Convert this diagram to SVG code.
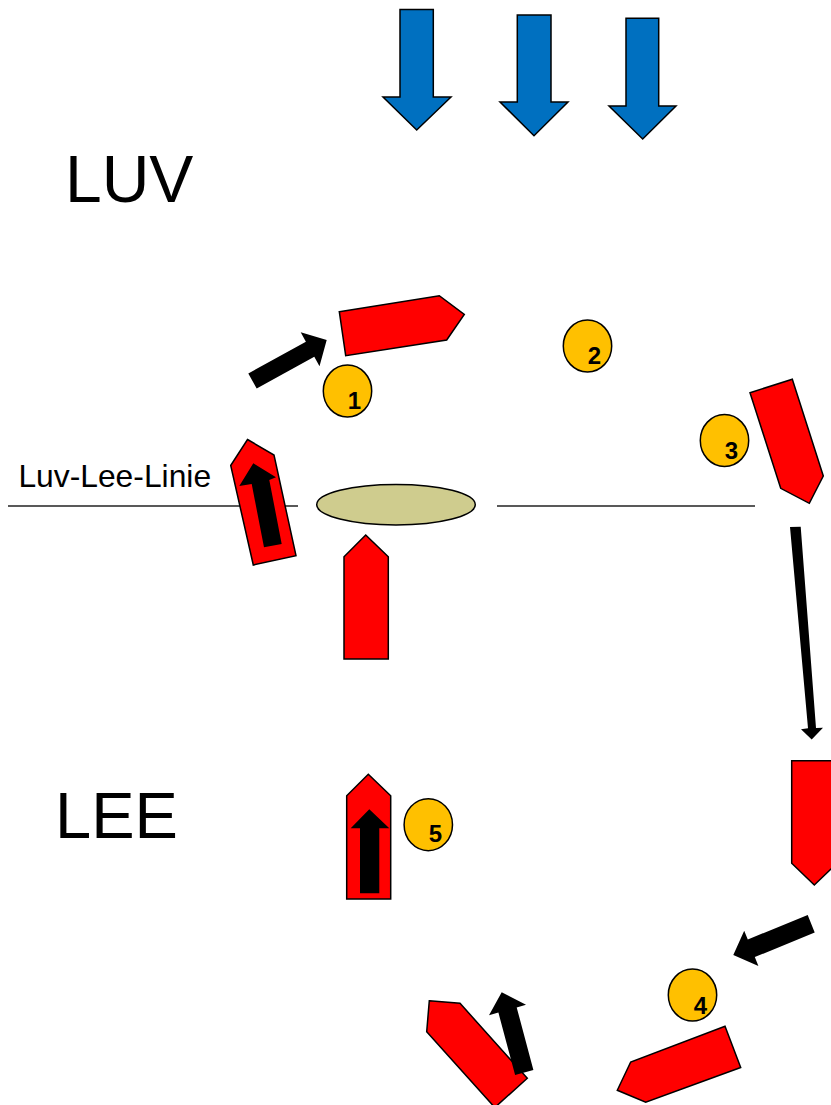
<svg xmlns="http://www.w3.org/2000/svg" width="831" height="1105" viewBox="0 0 831 1105">
<style>
.boat{fill:#FF0000;stroke:#000;stroke-width:1.5;stroke-linejoin:miter}
.wind{fill:#0070C0;stroke:#000;stroke-width:1.5}
.mark{fill:#FFC000;stroke:#000;stroke-width:1.5}
.num{font-family:"Liberation Sans",Arial,sans-serif;font-weight:bold;font-size:24px;fill:#000;text-anchor:middle}
.lbl{font-family:"Liberation Sans",Arial,sans-serif;fill:#000}
.arr{fill:#000}
.line{stroke:#222;stroke-width:1.5;fill:none}
</style>
<rect width="831" height="1105" fill="#fff"/>
<g id="wind">
<polygon class="wind" points="400,9.5 433.3,9.5 433.3,97 451,97 416.7,130 383,97 400,97"/>
<polygon class="wind" points="517.3,15 551,15 551,102 568,102 534,135.7 500,102 517.3,102"/>
<polygon class="wind" points="626,18.3 658.7,18.3 658.7,106 676,106 642.7,139 609,106 626,106"/>
</g>
<g id="labels">
<text class="lbl" x="65" y="202" font-size="66">LUV</text>
<text class="lbl" x="55" y="838" font-size="65">LEE</text>
<text class="lbl" x="18.4" y="487" font-size="31.8">Luv-Lee-Linie</text>
</g>
<g id="luv-lee-line">
<line class="line" x1="8" y1="506" x2="298" y2="506"/>
<line class="line" x1="497" y1="506" x2="755" y2="506"/>
</g>
<g id="committee-boat">
<ellipse cx="396" cy="504.7" rx="79.3" ry="20.3" fill="#CFCC8E" stroke="#000" stroke-width="1.5"/>
</g>
<g id="boat-start">
<polygon class="boat" points="365.7,535 388.3,556.7 388.3,659 344,659 344,556.7"/>
</g>
<g id="boat-left">
<polygon class="boat" points="247.5,439.5 274,455 296,555.7 253.3,565 230.7,465.5"/>
<polygon class="arr" points="253.3,463.3 276,477.3 269.3,480 281.7,544 264,547.3 251.7,484 239.3,486"/>
</g>
<g id="boat-1">
<polygon class="boat" points="339.3,311.7 439.3,295.7 464.3,314.3 446.7,340 345.7,355.7"/>
</g>
<g id="boat-3">
<polygon class="boat" points="750,392.7 792.3,379.3 823.3,476 809.3,503.3 780.7,488.3"/>
</g>
<g id="boat-right">
<polygon class="boat" points="791.7,760.7 837,760.7 837,863.3 814.3,885 791.7,863.3"/>
</g>
<g id="boat-4">
<polygon class="boat" points="617.3,1090.3 630.7,1062 725,1026.3 740.7,1067.5 645.7,1102.3"/>
</g>
<g id="boat-bottom-left">
<polygon class="boat" points="429.3,1000.7 460,1003.3 527.3,1078.3 494.8,1107.5 426.7,1031.7"/>
</g>
<g id="boat-5">
<polygon class="boat" points="368.3,774.3 390.7,795.7 390.7,899 346.7,899 346.7,795.7"/>
<polygon class="arr" points="369.3,809.3 389.3,828.3 379.3,828.3 379.3,893.3 360,893.3 360,828.3 350.7,828.3"/>
</g>
<g id="marks">
<g id="mark-1"><ellipse class="mark" cx="347.5" cy="391" rx="24.2" ry="26"/><text class="num" x="354.5" y="409">1</text></g>
<g id="mark-2"><ellipse class="mark" cx="587.5" cy="346" rx="24.2" ry="26"/><text class="num" x="594.5" y="364">2</text></g>
<g id="mark-3"><ellipse class="mark" cx="724.5" cy="440.5" rx="24.2" ry="26"/><text class="num" x="731.5" y="458.5">3</text></g>
<g id="mark-4"><ellipse class="mark" cx="692.5" cy="995" rx="24.2" ry="26"/><text class="num" x="700.5" y="1013.5">4</text></g>
<g id="mark-5"><ellipse class="mark" cx="428.3" cy="824.7" rx="24.2" ry="26"/><text class="num" x="435.5" y="842">5</text></g>
</g>
<g id="connectors">
<polygon class="arr" points="248.3,373.5 305.9,341.7 300.7,332.2 326.7,340 319.5,366.2 314.3,356.7 256.7,388.5"/>
<polygon class="arr" points="790,527 800.7,526.7 816,728 823,727.7 811.7,739.5 801,729.3 808,728.3"/>
<polygon class="arr" points="807.7,914.9 747.8,939.5 744.2,930.7 733.3,955 758.4,965.9 754.8,957.1 814.7,932.5"/>
<polygon class="arr" points="515.1,1075.1 498.4,1012.6 489,1015.2 501.7,992.3 526,1004.8 516.7,1007.4 533.4,1069.9"/>
</g>
</svg>
